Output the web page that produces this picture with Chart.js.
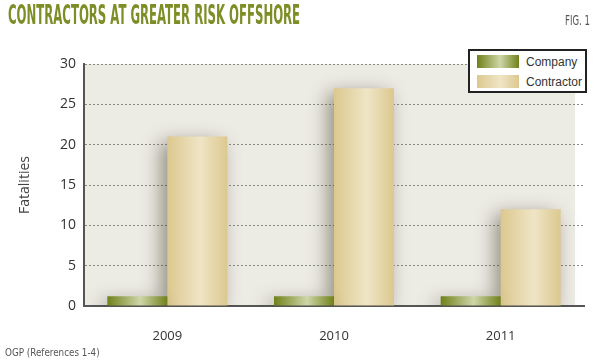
<!DOCTYPE html>
<html>
<head>
<meta charset="utf-8">
<script src="https://cdn.jsdelivr.net/npm/chart.js@4"></script>
<style>
  body { margin: 0; background: #fff; }
  #wrap { position: relative; width: 600px; height: 362px; overflow: hidden; font-family: 'Liberation Sans', sans-serif; }
  .narrow { position: absolute; font-family: 'DejaVu Sans Condensed', sans-serif; white-space: nowrap; transform-origin: 0 0; }
  #title { left: 8px; top: 0px; font-weight: bold; font-size: 26px; color: #7d8e26; }
  #fig { left: 565px; top: 12px; font-size: 14px; color: #555; }
  #source { left: 5px; top: 346px; font-size: 11px; color: #555; }
  #legend { position: absolute; left: 468px; top: 49px; width: 115px; height: 40px; border: 2px solid #222; background: #fff; }
  .item { position: absolute; left: 7px; height: 14px; font-size: 12px; color: #333; line-height: 14px; white-space: nowrap; }
  .sw { display: inline-block; width: 42px; height: 13px; vertical-align: top; margin-right: 7px; }
  canvas { position: absolute; left: 0; top: 0; }
</style>
</head>
<body>
<div id="wrap">
  <canvas id="chart" width="600" height="362"></canvas>
  <div id="title" class="narrow">CONTRACTORS AT GREATER RISK OFFSHORE</div>
  <div id="fig" class="narrow">FIG. 1</div>
  <div id="source" class="narrow">OGP (References 1-4)</div>
  <div id="legend"></div>
</div>
<script>
// dados
const years = ['2009', '2010', '2011'];
const company = [1.2, 1.2, 1.2];
const contractor = [21, 27, 12];
const yTicks = [0, 5, 10, 15, 20, 25, 30];
const seriesNames = ['Company', 'Contractor'];

// cores (borda, centro)
const palette = [
  ['#6f8119', '#cfd6a8'],
  ['#dcc88f', '#efe5c6']
];

// ajusta os textos estreitos à largura da referência
function fitWidth(id, w) {
  const el = document.getElementById(id);
  el.style.transform = 'scaleX(' + (w / el.offsetWidth) + ')';
}
fitWidth('title', 292);
fitWidth('fig', 25);
fitWidth('source', 95);

// legenda em HTML
const legend = document.getElementById('legend');
seriesNames.forEach((name, i) => {
  const c = palette[i];
  const div = document.createElement('div');
  div.className = 'item';
  div.style.top = (i === 0 ? 4 : 24) + 'px';
  div.innerHTML = '<span class="sw" style="background: linear-gradient(90deg,' + c[0] + ',' + c[1] + ' 55%,' + c[0] + ')"></span>' + name;
  legend.appendChild(div);
});

const catPct = 0.72;

function barGradient(context, dsIndex) {
  const chart = context.chart;
  const xs = chart.scales.x;
  if (!xs || !chart.chartArea) return palette[dsIndex][0];
  const center = xs.getPixelForValue(context.dataIndex);
  const barW = (xs.width / years.length) * catPct / 2;
  const left = dsIndex === 0 ? center - barW : center;
  const g = chart.ctx.createLinearGradient(left, 0, left + barW, 0);
  g.addColorStop(0, palette[dsIndex][0]);
  g.addColorStop(0.55, palette[dsIndex][1]);
  g.addColorStop(1, palette[dsIndex][0]);
  return g;
}

const plotBg = {
  id: 'plotBg',
  beforeDraw(chart) {
    const a = chart.chartArea;
    chart.ctx.save();
    chart.ctx.fillStyle = '#ecebe4';
    chart.ctx.fillRect(a.left, a.top, a.right - a.left - 9, a.bottom - a.top);
    chart.ctx.restore();
  }
};

const barShadow = {
  id: 'barShadow',
  beforeDatasetsDraw(chart) {
    const ctx = chart.ctx;
    ctx.save();
    ctx.shadowColor = 'rgba(60,50,30,0.5)';
    ctx.shadowBlur = 18;
    ctx.shadowOffsetX = -6;
    ctx.shadowOffsetY = 5;
  },
  afterDatasetsDraw(chart) {
    chart.ctx.restore();
  }
};

new Chart(document.getElementById('chart'), {
  type: 'bar',
  data: {
    labels: years,
    datasets: [{
      label: seriesNames[0],
      data: company,
      backgroundColor: ctx => barGradient(ctx, 0),
      borderWidth: 0,
      barPercentage: 1,
      categoryPercentage: catPct
    }, {
      label: seriesNames[1],
      data: contractor,
      backgroundColor: ctx => barGradient(ctx, 1),
      borderWidth: 0,
      barPercentage: 1,
      categoryPercentage: catPct
    }]
  },
  options: {
    responsive: false,
    animation: false,
    layout: { padding: { top: 64, right: 16, left: 0, bottom: 0 } },
    plugins: {
      legend: { display: false },
      tooltip: { enabled: false }
    },
    scales: {
      x: {
        grid: { display: false },
        border: { display: true, color: '#555', width: 2 },
        ticks: { color: '#333', padding: 14, font: { family: "'Open Sans', sans-serif", size: 13 } },
        afterFit: s => { s.height = 56; }
      },
      y: {
        min: 0,
        max: 30,
        afterBuildTicks: s => { s.ticks = yTicks.map(v => ({ value: v })); },
        grid: { color: '#8a8a85', lineWidth: 1, drawTicks: false },
        border: { display: true, color: '#555', width: 2, dash: [2, 2] },
        ticks: { color: '#333', padding: 8, font: { family: "'Open Sans', sans-serif", size: 14 } },
        title: {
          display: true,
          text: 'Fatalities',
          color: '#444',
          padding: { top: 17, bottom: 0 },
          font: { family: "'Open Sans', sans-serif", size: 14 }
        },
        afterFit: s => { s.width = 84; }
      }
    }
  },
  plugins: [plotBg, barShadow]
});
</script>
</body>
</html>
